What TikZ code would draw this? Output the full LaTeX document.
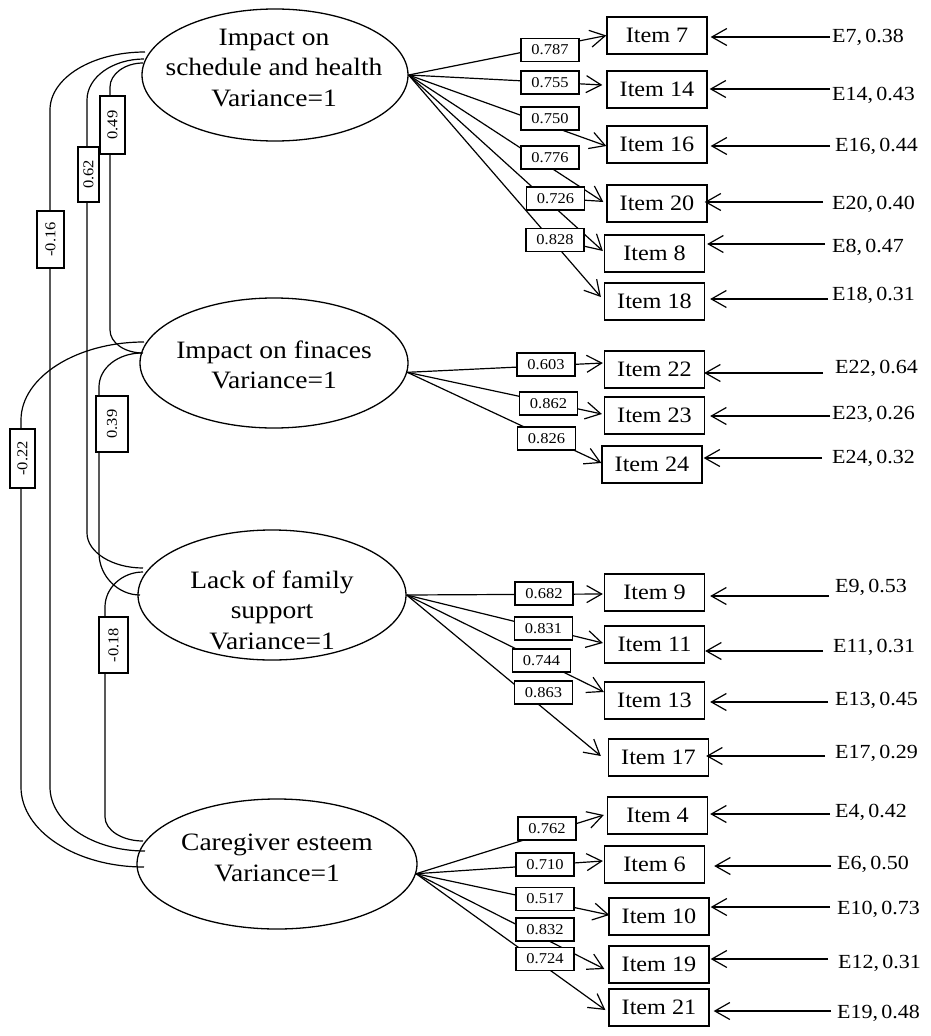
\documentclass[tikz,border=0pt]{standalone}
\usepackage{fontspec}
\setmainfont{Liberation Serif}[FakeStretch=1.1]
\usetikzlibrary{arrows.meta,shapes.geometric,calc}
\tikzset{
  latent/.style={draw, ellipse, inner sep=0pt, line width=1.3pt},
  lattext/.style={align=center, inner sep=0pt, font=\fontsize{25}{30.5}\selectfont},
  itembox/.style={draw, rectangle, minimum width=100pt, minimum height=37pt, inner sep=0pt, line width=1.3pt, font=\fontsize{22}{26}\selectfont},
  lbl/.style={draw, fill=white, minimum width=58pt, minimum height=23pt, inner sep=0pt, line width=1.2pt, font=\fontsize{15}{18}\selectfont},
  covlbl/.style={draw, fill=white, rotate=90, inner sep=0pt, line width=1.2pt, font=\fontsize{15}{18}\selectfont},
  errlbl/.style={anchor=west, inner sep=0pt, font=\fontsize{20}{24}\selectfont},
  load/.style={-{Straight Barb[length=15pt,width=17pt]}, line width=1.2pt},
  errarr/.style={-{Straight Barb[length=15pt,width=17pt]}, line width=1.2pt},
  covline/.style={line width=1.2pt}
}
\begin{document}
\begin{tikzpicture}[x=1pt,y=1pt]
\useasboundingbox (0,0) rectangle (930,-1036);

% latent variables
\node[latent, minimum width=266pt, minimum height=132pt] (e1) at (275,-75) {};
\node[lattext] (t1) at (274,-68) {Impact on\\schedule and health\\Variance=1};
\node[latent, minimum width=268pt, minimum height=130pt] (e2) at (274,-363) {};
\node[lattext] (t2) at (274,-365) {Impact on finaces\\Variance=1};
\node[latent, minimum width=268pt, minimum height=130pt] (e3) at (272,-595) {};
\node[lattext] (t3) at (272,-610) {Lack of family\\support\\Variance=1};
\node[latent, minimum width=280pt, minimum height=130pt] (e4) at (277,-864) {};
\node[lattext] (t4) at (277,-858) {Caregiver esteem\\Variance=1};

% items
\node[itembox] (i7)  at (657,-35.5)  {Item 7};
\node[itembox] (i14) at (657,-89.5)  {Item 14};
\node[itembox] (i16) at (657,-144.5) {Item 16};
\node[itembox] (i20) at (657,-203.5) {Item 20};
\node[itembox] (i8)  at (654.5,-253.5) {Item 8};
\node[itembox] (i18) at (654.5,-301.5) {Item 18};
\node[itembox] (i22) at (654.5,-369.5) {Item 22};
\node[itembox] (i23) at (654.5,-415.5) {Item 23};
\node[itembox] (i24) at (652,-464.5) {Item 24};
\node[itembox] (i9)  at (654.5,-592.5) {Item 9};
\node[itembox] (i11) at (654.5,-644.5) {Item 11};
\node[itembox] (i13) at (654.5,-700.5) {Item 13};
\node[itembox] (i17) at (658.5,-757.5) {Item 17};
\node[itembox] (i4)  at (657.5,-815.5) {Item 4};
\node[itembox] (i6)  at (654.5,-864.5) {Item 6};
\node[itembox] (i10) at (659,-916.5) {Item 10};
\node[itembox] (i19) at (659,-964.5) {Item 19};
\node[itembox] (i21) at (659,-1007.5) {Item 21};

% loadings
\draw[load] (e1.east) -- (i7.west);
\draw[load] (e1.east) -- ($(i14.west)+(-4,4.5)$);
\draw[load] (e1.east) -- ($(i16.west)+(0,-1.5)$);
\draw[load] (e1.east) -- ($(i20.west)+(-3,1.5)$);
\draw[load] (e1.east) -- ($(i8.west)+(-1,2.5)$);
\draw[load] (e1.east) -- ($(i18.west)+(-3,4.5)$);
\draw[load] (e2.-4) -- ($(i22.west)+(-1,6.5)$);
\draw[load] (e2.-4) -- ($(i23.west)+(-2,1.5)$);
\draw[load] (e2.-4) -- ($(i24.west)+(0,1.5)$);
\draw[load] (e3.east) -- ($(i9.west)+(-1,-1.5)$);
\draw[load] (e3.east) -- ($(i11.west)+(-1,1.5)$);
\draw[load] (e3.east) -- ($(i13.west)+(0,8.5)$);
\draw[load] (e3.east) -- ($(i17.west)+(-7,1.5)$);
\draw[load] (e4.-4) -- ($(i4.west)+(-3,0.5)$);
\draw[load] (e4.-4) -- ($(i6.west)+(-1,3.5)$);
\draw[load] (e4.-4) -- ($(i10.west)+(1,1.5)$);
\draw[load] (e4.-4) -- ($(i19.west)+(-4,-4.5)$);
\draw[load] (e4.-4) -- ($(i21.west)+(-3,-2.5)$);

% loading labels
\node[lbl] (l7)  at (550,-50)    {0.787};
\node[lbl] (l14) at (550,-82.5)  {0.755};
\node[lbl] (l16) at (550,-118.5) {0.750};
\node[lbl] (l20) at (550,-157.5) {0.776};
\node[lbl] (l8)  at (555.5,-198.5) {0.726};
\node[lbl] (l18) at (555,-240)   {0.828};
\node[lbl] (l22) at (546,-364.5) {0.603};
\node[lbl] (l23) at (548.5,-403.5) {0.862};
\node[lbl] (l24) at (546.5,-438.5) {0.826};
\node[lbl] (l9)  at (544,-593.5) {0.682};
\node[lbl] (l11) at (543.5,-628.5) {0.831};
\node[lbl] (l13) at (541.5,-660.5) {0.744};
\node[lbl] (l17) at (543.5,-692.5) {0.863};
\node[lbl] (l4)  at (547,-828.5) {0.762};
\node[lbl] (l6)  at (545,-864.5) {0.710};
\node[lbl] (l10) at (545,-899)   {0.517};
\node[lbl] (l19) at (545,-929.5) {0.832};
\node[lbl] (l21) at (545,-959)   {0.724};

% error terms
\node[errlbl] (x7)  at (832,-37)  {E7,\,0.38};
\node[errlbl] (x14) at (832,-95)  {E14,\,0.43};
\node[errlbl] (x16) at (835,-146) {E16,\,0.44};
\node[errlbl] (x20) at (832,-204) {E20,\,0.40};
\node[errlbl] (x8)  at (832,-247) {E8,\,0.47};
\node[errlbl] (x18) at (832,-295) {E18,\,0.31};
\node[errlbl] (x22) at (835,-368) {E22,\,0.64};
\node[errlbl] (x23) at (832,-414) {E23,\,0.26};
\node[errlbl] (x24) at (832,-458) {E24,\,0.32};
\node[errlbl] (x9)  at (835,-587) {E9,\,0.53};
\node[errlbl] (x11) at (833,-647) {E11,\,0.31};
\node[errlbl] (x13) at (835,-700) {E13,\,0.45};
\node[errlbl] (x17) at (835,-753) {E17,\,0.29};
\node[errlbl] (x4)  at (835,-812) {E4,\,0.42};
\node[errlbl] (x6)  at (837,-864) {E6,\,0.50};
\node[errlbl] (x10) at (837,-909) {E10,\,0.73};
\node[errlbl] (x19) at (838,-963) {E12,\,0.31};
\node[errlbl] (x21) at (837,-1013) {E19,\,0.48};

\coordinate (s7)  at (830,-37);
\coordinate (s14) at (830,-89);
\coordinate (s16) at (830,-146);
\coordinate (s20) at (823,-202);
\coordinate (s8)  at (825,-244);
\coordinate (s18) at (828,-299);
\coordinate (s22) at (823,-373);
\coordinate (s23) at (830,-416);
\coordinate (s24) at (822,-458);
\coordinate (s9)  at (829,-596);
\coordinate (s11) at (823,-651);
\coordinate (s13) at (828,-702);
\coordinate (s17) at (825,-756);
\coordinate (s4)  at (830,-814);
\coordinate (s6)  at (831,-866);
\coordinate (s10) at (830,-907);
\coordinate (s19) at (828,-959);
\coordinate (s21) at (831,-1011);

\draw[errarr] (s7)  -- ($(i7.east |- s7)+(3,0)$);
\draw[errarr] (s14) -- ($(i14.east |- s14)+(2,0)$);
\draw[errarr] (s16) -- ($(i16.east |- s16)+(3,0)$);
\draw[errarr] (s20) -- ($(i20.east |- s20)+(-3,0)$);
\draw[errarr] (s8)  -- ($(i8.east |- s8)+(2,0)$);
\draw[errarr] (s18) -- ($(i18.east |- s18)+(5,0)$);
\draw[errarr] (s22) -- ($(i22.east |- s22)+(-1,0)$);
\draw[errarr] (s23) -- ($(i23.east |- s23)+(5,0)$);
\draw[errarr] (s24) -- ($(i24.east |- s24)+(1,0)$);
\draw[errarr] (s9)  -- ($(i9.east |- s9)+(5,0)$);
\draw[errarr] (s11) -- ($(i11.east |- s11)+(0,0)$);
\draw[errarr] (s13) -- ($(i13.east |- s13)+(5,0)$);
\draw[errarr] (s17) -- ($(i17.east |- s17)+(-3,0)$);
\draw[errarr] (s4)  -- ($(i4.east |- s4)+(2,0)$);
\draw[errarr] (s6)  -- ($(i6.east |- s6)+(9,0)$);
\draw[errarr] (s10) -- ($(i10.east |- s10)+(1,0)$);
\draw[errarr] (s19) -- ($(i19.east |- s19)+(1,0)$);
\draw[errarr] (s21) -- ($(i21.east |- s21)+(4,0)$);

% covariances
\draw[covline] ($(e1)+(-130,23)$) to[out=180,in=90,out distance=53pt,in distance=32pt] (50,-110)
  -- (50,-787) to[out=-90,in=180,out distance=35pt,in distance=53pt] ($(e4)+(-132,13)$);
\draw[covline] ($(e1)+(-131,16)$) to[out=180,in=90,out distance=31pt,in distance=23pt] (87,-100)
  -- (87,-533) to[out=-90,in=180,out distance=19pt,in distance=31pt] ($(e3)+(-129,27)$);
\draw[covline] ($(e1)+(-132,12)$) to[out=180,in=90,out distance=18pt,in distance=13pt] (110,-87)
  -- (110,-330) to[out=-90,in=180,out distance=13pt,in distance=18pt] ($(e2)+(-131,10)$);
\draw[covline] ($(e2)+(-130,21)$) to[out=180,in=90,out distance=67pt,in distance=43pt] (21,-420)
  -- (21,-787) to[out=-90,in=180,out distance=44pt,in distance=68pt] ($(e4)+(-133,-3)$);
\draw[covline] ($(e2)+(-132,10)$) to[out=180,in=90,out distance=24pt,in distance=19pt] (99,-387)
  -- (99,-553) to[out=-90,in=180,out distance=23pt,in distance=22pt] ($(e3)+(-132,0)$);
\draw[covline] ($(e3)+(-129,23)$) to[out=180,in=90,out distance=21pt,in distance=19pt] (105,-607)
  -- (105,-817) to[out=-90,in=180,out distance=13pt,in distance=21pt] ($(e4)+(-134,23)$);

% covariance labels
\node[covlbl, minimum width=57pt, minimum height=27pt] (c14) at (50.5,-239.5) {-0.16};
\node[covlbl, minimum width=55pt, minimum height=21pt] (c13) at (88.5,-174.5) {0.62};
\node[covlbl, minimum width=58pt, minimum height=25pt] (c12) at (112.5,-125) {0.49};
\node[covlbl, minimum width=59pt, minimum height=25pt] (c24) at (22.5,-458.5) {-0.22};
\node[covlbl, minimum width=56pt, minimum height=32pt] (c23) at (112,-424) {0.39};
\node[covlbl, minimum width=56pt, minimum height=29pt] (c34) at (113.5,-645) {-0.18};
\end{tikzpicture}
\end{document}
